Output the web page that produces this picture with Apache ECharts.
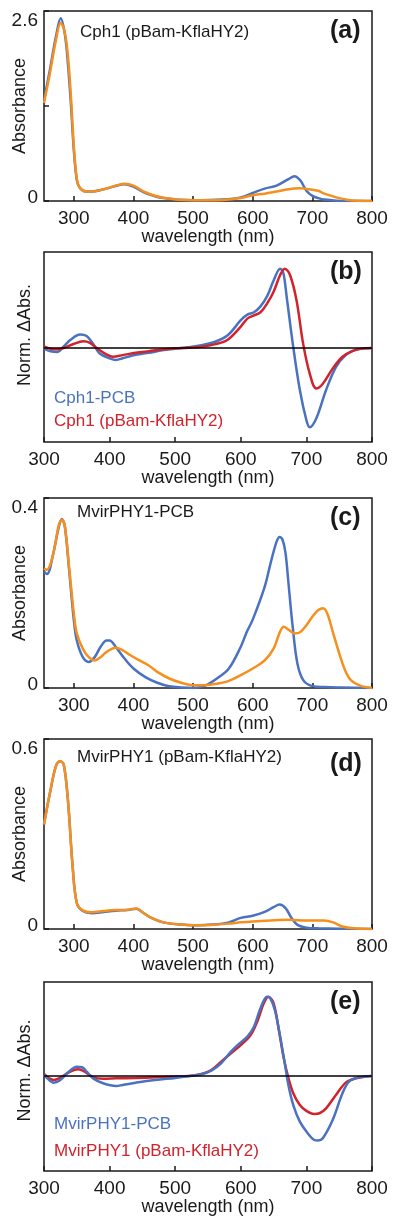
<!DOCTYPE html>
<html><head><meta charset="utf-8">
<script src="https://cdn.jsdelivr.net/npm/echarts@6/dist/echarts.min.js"></script>
<style>html,body{margin:0;padding:0;background:#fff}#c{width:400px;height:1229px}</style>
</head><body><div id="c"></div>
<script>
// ---------- data ----------
const xTicks = [300, 400, 500, 600, 700, 800];
const aYTicks = [0, 1.3, 2.6];

// (a) Cph1 (pBam-KflaHY2)
const aWl     = [250,260,270,278,285,290,295,300,305,310,320,330,350,370,385,400,420,450,500,550,580,600,620,640,660,670,680,690,700,710,720,740,760,780,800];
const aBlue   = [1.38,1.8,2.25,2.5,2.28,1.89,1.34,0.70,0.29,0.18,0.13,0.13,0.16,0.205,0.23,0.196,0.11,0.04,0.01,0.02,0.05,0.11,0.17,0.21,0.30,0.34,0.28,0.14,0.07,0.04,0.02,0.005,0,0,0];
const aOrange = [1.34,1.75,2.2,2.44,2.3,2.0,1.45,0.75,0.3,0.18,0.13,0.13,0.16,0.21,0.235,0.21,0.12,0.045,0.01,0.015,0.04,0.08,0.10,0.13,0.16,0.172,0.175,0.165,0.155,0.14,0.10,0.05,0.015,0.003,0];

// (b) difference spectra Cph1
const bBlueWl  = [300,310,320,330,340,355,365,375,385,400,410,420,440,460,480,500,520,540,560,580,600,610,620,630,640,650,660,665,670,680,690,700,705,715,730,745,760,775,790,800];
const bBlueVal = [-0.01,-0.04,-0.05,0.02,0.10,0.17,0.15,0.05,-0.07,-0.13,-0.15,-0.13,-0.085,-0.06,-0.03,-0.01,0.01,0.035,0.075,0.16,0.35,0.42,0.45,0.525,0.65,0.85,1.0,0.94,0.64,0.01,-0.53,-0.91,-1.0,-0.89,-0.53,-0.24,-0.09,-0.02,-0.004,0];
const bRedWl   = [300,310,320,330,345,360,370,380,395,405,420,440,460,480,500,520,540,560,580,600,610,620,630,640,650,660,667,675,685,695,705,715,725,740,755,770,785,800];
const bRedVal  = [0.02,-0.01,-0.017,0,0.05,0.085,0.065,0,-0.08,-0.11,-0.09,-0.06,-0.04,-0.02,-0.004,0.004,0.017,0.046,0.105,0.27,0.37,0.41,0.45,0.56,0.71,0.92,1.0,0.92,0.6,0.055,-0.32,-0.51,-0.45,-0.26,-0.11,-0.04,-0.008,0];

// (c) MvirPHY1-PCB
const cBlueWl  = [250,255,265,275,280,285,292,300,305,315,325,335,345,355,360,370,385,400,420,440,460,480,500,520,540,560,580,590,600,620,630,640,645,650,655,660,667,675,685,700,720,750,800];
const cBlueVal = [0.245,0.24,0.28,0.34,0.356,0.34,0.25,0.143,0.10,0.065,0.055,0.065,0.087,0.10,0.10,0.087,0.062,0.041,0.023,0.011,0.0035,0.001,0,0.005,0.02,0.041,0.087,0.118,0.144,0.213,0.263,0.308,0.318,0.312,0.284,0.22,0.129,0.051,0.016,0.004,0.002,0.001,0];
const cOrWl    = [250,255,265,275,280,285,292,300,305,315,325,335,345,355,370,380,395,410,425,440,460,480,500,520,540,560,580,600,620,635,645,652,660,670,680,690,700,710,718,725,735,745,755,765,780,800];
const cOrVal   = [0.252,0.249,0.28,0.344,0.354,0.34,0.256,0.157,0.115,0.083,0.065,0.058,0.065,0.076,0.085,0.081,0.069,0.058,0.048,0.034,0.02,0.011,0.006,0.006,0.009,0.015,0.027,0.041,0.058,0.083,0.116,0.129,0.123,0.115,0.118,0.132,0.15,0.164,0.168,0.157,0.115,0.073,0.037,0.016,0.005,0];

// (d) MvirPHY1 (pBam-KflaHY2)
const dBlueWl  = [250,260,270,277,283,290,298,305,315,330,350,370,390,405,415,430,450,480,500,520,540,560,580,600,620,635,645,655,665,675,690,710,800];
const dBlueVal = [0.33,0.43,0.514,0.53,0.52,0.41,0.198,0.082,0.057,0.05,0.054,0.058,0.06,0.064,0.053,0.035,0.021,0.014,0.012,0.013,0.015,0.021,0.035,0.042,0.054,0.069,0.077,0.066,0.035,0.013,0.004,0.002,0];
const dOrWl    = [250,260,270,277,283,290,298,305,315,330,350,370,390,405,415,430,450,480,500,530,560,580,600,630,660,690,720,735,750,770,800];
const dOrVal   = [0.33,0.43,0.514,0.53,0.52,0.41,0.198,0.082,0.059,0.053,0.057,0.06,0.061,0.065,0.053,0.035,0.021,0.014,0.012,0.013,0.017,0.021,0.024,0.027,0.029,0.027,0.027,0.021,0.008,0.002,0];

// (e) difference spectra MvirPHY1
const eBlueWl  = [300,305,315,325,335,350,358,365,375,390,410,420,440,460,480,500,520,540,555,570,585,595,610,620,630,640,645,652,660,667,673,680,690,700,712,718,725,740,755,765,780,800];
const eBlueVal = [0.013,-0.03,-0.084,-0.05,0.034,0.118,0.11,0.055,-0.03,-0.092,-0.126,-0.113,-0.084,-0.059,-0.042,-0.025,-0.004,0.021,0.067,0.16,0.307,0.39,0.496,0.62,0.853,1.0,0.98,0.83,0.496,0.16,-0.134,-0.366,-0.576,-0.70,-0.807,-0.815,-0.786,-0.555,-0.218,-0.071,-0.017,0];
const eRedWl   = [300,308,315,325,340,352,362,375,390,410,440,470,500,520,540,555,570,585,600,615,625,635,642,650,658,665,672,680,690,700,712,720,730,745,760,775,790,800];
const eRedVal  = [0.025,-0.03,-0.05,-0.02,0.055,0.084,0.055,-0.017,-0.034,-0.03,-0.025,-0.017,-0.008,0,0.025,0.076,0.18,0.286,0.39,0.517,0.685,0.916,1.0,0.916,0.58,0.244,-0.008,-0.218,-0.366,-0.44,-0.479,-0.47,-0.408,-0.24,-0.084,-0.03,-0.008,0];

// ---------- styling ----------
const FONT = 'Liberation Sans, Arial, Helvetica, sans-serif';
const INK = '#1a1a1a';
const BLUE = '#4a72c0';
const ORANGE = '#f5901e';
const RED = '#d0232b';
const zip = (xs, ys) => xs.map((x, i) => [x, ys[i]]);

const grids = [
  { top: 11,  height: 190 },
  { top: 252, height: 190 },
  { top: 498, height: 190 },
  { top: 739, height: 190 },
  { top: 982, height: 189 }
].map(g => Object.assign({ left: 44, width: 328, containLabel: false, outerBoundsMode: 'none',
  show: true, borderColor: INK, borderWidth: 1.5, backgroundColor: 'transparent' }, g));

function xAx(idx, min) {
  return {
    type: 'value', gridIndex: idx, min: min, max: 800,
    name: 'wavelength (nm)', nameLocation: 'middle', nameGap: 27, nameMoveOverlap: false,
    nameTextStyle: { fontSize: 18, color: INK, fontFamily: FONT },
    axisLine: { show: false, onZero: false }, splitLine: { show: false },
    axisTick: { show: true, inside: true, length: 5, customValues: xTicks, lineStyle: { color: INK, width: 1.5 } },
    axisLabel: { customValues: xTicks, margin: 8, fontSize: 19, color: INK, fontFamily: FONT }
  };
}
function yAbs(idx, maxV, ticks) {
  return {
    type: 'value', gridIndex: idx, min: 0, max: maxV,
    name: 'Absorbance', nameLocation: 'middle', nameGap: 15, nameMoveOverlap: false,
    nameTextStyle: { fontSize: 18, color: INK, fontFamily: FONT },
    axisLine: { show: false, onZero: false }, splitLine: { show: false },
    axisTick: { show: true, inside: true, length: 5, customValues: ticks, lineStyle: { color: INK, width: 1.5 } },
    axisLabel: {
      customValues: [0, maxV], margin: 6,
      formatter: v => v === 0 ? '{b|0}' : '{t|' + v + '}',
      rich: {
        b: { fontSize: 19, color: INK, fontFamily: FONT, padding: [0, 0, 6, 0] },
        t: { fontSize: 19, color: INK, fontFamily: FONT, padding: [20, 0, 0, 0] }
      }
    }
  };
}
function yNorm(idx, minV, maxV, shift) {
  return {
    type: 'value', gridIndex: idx, min: minV, max: maxV,
    name: 'Norm. ΔAbs.', nameLocation: 'middle', nameGap: 10, nameMoveOverlap: false,
    nameTextStyle: { fontSize: 18, color: INK, fontFamily: FONT, padding: [0, 0, 0, shift] },
    axisLine: { show: false, onZero: false }, splitLine: { show: false },
    axisTick: { show: false }, axisLabel: { show: false }
  };
}
function line(name, idx, data, color, extra) {
  return Object.assign({
    type: 'line', name: name, xAxisIndex: idx, yAxisIndex: idx, data: data,
    showSymbol: false, smooth: 0.35, lineStyle: { color: color, width: 2.5 }, itemStyle: { color: color },
    silent: true, animation: false
  }, extra || {});
}
const zeroLine = {
  silent: true, symbol: ['none', 'none'], label: { show: false },
  lineStyle: { color: '#000', width: 1.5, type: 'solid' }, data: [{ yAxis: 0 }]
};
function txt(text, left, top, size, bold) {
  return { text: text, left: left, top: top, padding: 0,
    textStyle: { fontSize: size, fontWeight: bold ? 'bold' : 'normal', color: INK, fontFamily: FONT } };
}

const option = {
  backgroundColor: '#fff',
  animation: false,
  grid: grids,
  xAxis: [xAx(0, 250), xAx(1, 300), xAx(2, 250), xAx(3, 250), xAx(4, 300)],
  yAxis: [yAbs(0, 2.6, aYTicks), yNorm(1, -1.185, 1.21, 24), yAbs(2, 0.4, [0, 0.4]), yAbs(3, 0.6, [0, 0.6]), yNorm(4, -1.198, 1.185, 12)],
  title: [
    txt('Cph1 (pBam-KflaHY2)', 80, 24, 17), txt('(a)', 330, 19, 25, true),
    txt('(b)', 330, 260, 25, true),
    txt('MvirPHY1-PCB', 77, 504, 17), txt('(c)', 330, 506, 25, true),
    txt('MvirPHY1 (pBam-KflaHY2)', 77, 749, 17), txt('(d)', 330, 752, 25, true),
    txt('(e)', 330, 990, 25, true)
  ],
  legend: [
    { data: [{ name: 'Cph1-PCB', textStyle: { color: BLUE } }, { name: 'Cph1 (pBam-KflaHY2)', textStyle: { color: RED } }],
      orient: 'vertical', left: 48, top: 390, itemWidth: 0, itemHeight: 0, itemGap: 6, padding: 0, selectedMode: false,
      textStyle: { fontSize: 17, fontFamily: FONT } },
    { data: [{ name: 'MvirPHY1-PCB', textStyle: { color: BLUE } }, { name: 'MvirPHY1 (pBam-KflaHY2)', textStyle: { color: RED } }],
      orient: 'vertical', left: 48, top: 1116, itemWidth: 0, itemHeight: 0, itemGap: 10, padding: 0, selectedMode: false,
      textStyle: { fontSize: 17, fontFamily: FONT } }
  ],
  series: [
    line('Cph1 (pBam-KflaHY2) dark', 0, zip(aWl, aBlue), BLUE),
    line('Cph1 (pBam-KflaHY2) lit', 0, zip(aWl, aOrange), ORANGE),
    line('Cph1-PCB', 1, zip(bBlueWl, bBlueVal), BLUE, { markLine: zeroLine }),
    line('Cph1 (pBam-KflaHY2)', 1, zip(bRedWl, bRedVal), RED),
    line('MvirPHY1-PCB dark', 2, zip(cBlueWl, cBlueVal), BLUE),
    line('MvirPHY1-PCB lit', 2, zip(cOrWl, cOrVal), ORANGE),
    line('MvirPHY1 (pBam-KflaHY2) dark', 3, zip(dBlueWl, dBlueVal), BLUE),
    line('MvirPHY1 (pBam-KflaHY2) lit', 3, zip(dOrWl, dOrVal), ORANGE),
    line('MvirPHY1 (pBam-KflaHY2)', 4, zip(eRedWl, eRedVal), RED, { markLine: zeroLine }),
    line('MvirPHY1-PCB', 4, zip(eBlueWl, eBlueVal), BLUE)
  ]
};
const chart = echarts.init(document.getElementById('c'), null, { renderer: 'canvas' });
chart.setOption(option);
</script>
</body></html>
